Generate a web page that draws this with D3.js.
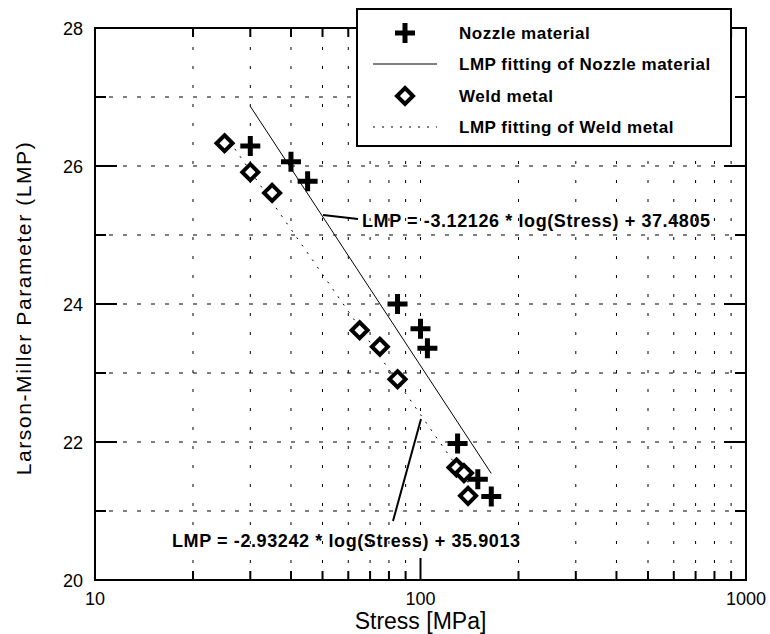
<!DOCTYPE html>
<html>
<head>
<meta charset="utf-8">
<script src="https://cdn.jsdelivr.net/npm/d3@7"></script>
<style>
  body { margin: 0; background: #fff; }
  text { font-family: "Liberation Sans", Arial, sans-serif; }
</style>
</head>
<body>
<svg id="chart" width="770" height="634"></svg>
<script>
// data
const nozzleStress = [30, 40, 45, 85, 100, 105, 130, 150, 165]
const nozzleLmp = [26.29, 26.06, 25.78, 24.0, 23.64, 23.36, 21.98, 21.46, 21.21]
const weldStress = [25, 30, 35, 65, 75, 85, 129, 136, 140]
const weldLmp = [26.33, 25.91, 25.61, 23.62, 23.38, 22.91, 21.63, 21.55, 21.22]
// fits: LMP = a * ln(stress) + b
const nozzleFit = { a: -3.12126, b: 37.4805, from: 30, to: 165 }
const weldFit = { a: -2.93242, b: 35.9013, from: 25, to: 140 }
const xTickLabels = [10, 100, 1000]
const yTickLabels = [20, 22, 24, 26, 28]
const legendItems = ['Nozzle material', 'LMP fitting of Nozzle material', 'Weld metal', 'LMP fitting of Weld metal']

const svg = d3.select('#chart')
const pl = 95, pr = 746, pt = 28, pb = 580

const x = d3.scaleLog().domain([10, 1000]).range([pl, pr])
const y = d3.scaleLinear().domain([20, 28]).range([pb, pt])

// grid
const minorX = []
for (const dec of [10, 100]) for (let k = 2; k <= 9; k++) minorX.push(dec * k)
const gridY = d3.range(21, 28)
const grid = svg.append('g').attr('stroke', '#000').attr('stroke-width', 1)
grid.selectAll('line.gx').data(minorX.concat([100])).enter().append('line')
  .attr('x1', d => x(d)).attr('x2', d => x(d)).attr('y1', pt).attr('y2', pb)
  .attr('stroke-dasharray', '3,16')
grid.selectAll('line.gy').data(gridY).enter().append('line')
  .attr('x1', pl).attr('x2', pr).attr('y1', d => y(d)).attr('y2', d => y(d))
  .attr('stroke-dasharray', '4,10')

// ticks (inward, both sides)
const ticks = svg.append('g').attr('stroke', '#000').attr('stroke-width', 2)
const xt = minorX.map(v => ({ v, len: 9 })).concat([{ v: 100, len: 22 }])
xt.forEach(t => {
  ticks.append('line').attr('x1', x(t.v)).attr('x2', x(t.v)).attr('y1', pb).attr('y2', pb - t.len)
  ticks.append('line').attr('x1', x(t.v)).attr('x2', x(t.v)).attr('y1', pt).attr('y2', pt + t.len)
})
d3.range(21, 28).forEach(v => {
  const len = v % 2 === 0 ? 22 : 11
  ticks.append('line').attr('x1', pl).attr('x2', pl + len).attr('y1', y(v)).attr('y2', y(v))
  ticks.append('line').attr('x1', pr).attr('x2', pr - len).attr('y1', y(v)).attr('y2', y(v))
})

// frame
svg.append('rect').attr('x', pl).attr('y', pt).attr('width', pr - pl).attr('height', pb - pt)
  .attr('fill', 'none').attr('stroke', '#000').attr('stroke-width', 2)

// tick labels
svg.selectAll('text.xl').data(xTickLabels).enter().append('text')
  .attr('x', d => x(d)).attr('y', pb + 25).attr('text-anchor', 'middle')
  .attr('font-size', 18).text(d => d)
svg.selectAll('text.yl').data(yTickLabels).enter().append('text')
  .attr('x', pl - 12).attr('y', d => y(d) + 6.5).attr('text-anchor', 'end')
  .attr('font-size', 18).text(d => d)

svg.append('text').attr('x', (pl + pr) / 2).attr('y', 629).attr('text-anchor', 'middle')
  .attr('font-size', 23).text('Stress [MPa]')
svg.append('text').attr('transform', `translate(31,308) rotate(-90)`)
  .attr('text-anchor', 'middle').attr('font-size', 21).attr('letter-spacing', 1.6)
  .text('Larson-Miller Parameter (LMP)')

// fit lines
const fitLine = f => {
  const s = [f.from, f.to]
  return d3.line().x(d => x(d)).y(d => y(f.a * Math.log(d) + f.b))(s)
}
svg.append('path').attr('d', fitLine(nozzleFit)).attr('stroke', '#000').attr('stroke-width', 1).attr('fill', 'none')
svg.append('path').attr('d', fitLine(weldFit)).attr('stroke', '#000').attr('stroke-width', 1)
  .attr('stroke-dasharray', '2,7').attr('fill', 'none')

// markers
const cross = (g, cx, cy) => {
  g.append('path').attr('d', `M${cx - 10},${cy}H${cx + 10}M${cx},${cy - 10}V${cy + 10}`)
    .attr('stroke', '#000').attr('stroke-width', 5).attr('fill', 'none')
}
const diamond = (g, cx, cy) => {
  g.append('path').attr('d', `M${cx},${cy - 8}L${cx + 8},${cy}L${cx},${cy + 8}L${cx - 8},${cy}Z`)
    .attr('stroke', '#000').attr('stroke-width', 4).attr('fill', '#fff')
}
const marks = svg.append('g')
weldStress.forEach((s, i) => diamond(marks, x(s), y(weldLmp[i])))
nozzleStress.forEach((s, i) => cross(marks, x(s), y(nozzleLmp[i])))

// annotations
svg.append('line').attr('x1', 323).attr('y1', 215).attr('x2', 358).attr('y2', 219)
  .attr('stroke', '#000').attr('stroke-width', 2)
svg.append('text').attr('x', 362).attr('y', 227).attr('font-size', 18).attr('font-weight', 'bold')
  .attr('letter-spacing', 0.6).text('LMP = -3.12126 * log(Stress) + 37.4805')
svg.append('line').attr('x1', 421).attr('y1', 419).attr('x2', 393).attr('y2', 521)
  .attr('stroke', '#000').attr('stroke-width', 2)
svg.append('text').attr('x', 172).attr('y', 547).attr('font-size', 18).attr('font-weight', 'bold')
  .attr('letter-spacing', 0.6).text('LMP = -2.93242 * log(Stress) + 35.9013')

// legend
const lg = svg.append('g')
lg.append('rect').attr('x', 357).attr('y', 9).attr('width', 374).attr('height', 137)
  .attr('fill', '#fff').attr('stroke', '#000').attr('stroke-width', 2)
const rowY = [33, 64, 96, 127]
cross(lg, 405, rowY[0])
lg.append('line').attr('x1', 373).attr('x2', 437).attr('y1', rowY[1]).attr('y2', rowY[1]).attr('stroke', '#000').attr('stroke-width', 1)
diamond(lg, 405, rowY[2])
lg.append('line').attr('x1', 373).attr('x2', 437).attr('y1', rowY[3]).attr('y2', rowY[3]).attr('stroke', '#000').attr('stroke-width', 1).attr('stroke-dasharray', '2,7')
lg.selectAll('text').data(legendItems).enter().append('text')
  .attr('x', 459).attr('y', (d, i) => rowY[i] + 6).attr('font-size', 17).attr('font-weight', 'bold')
  .attr('letter-spacing', 0.5).text(d => d)
</script>
</body>
</html>
